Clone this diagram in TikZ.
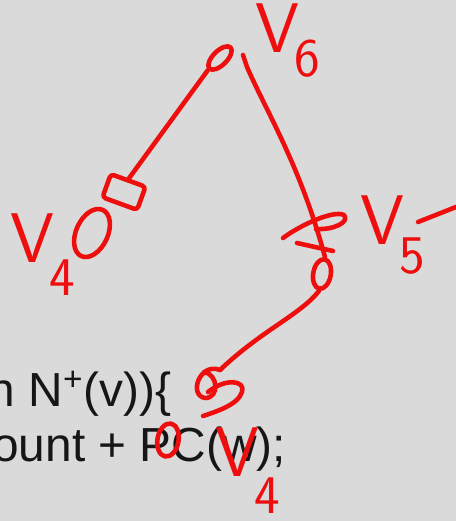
\documentclass[tikz,border=0pt]{standalone}
\usepackage{fontspec}
\setmainfont{Liberation Sans}
\usetikzlibrary{shapes.geometric,positioning,calc}
\definecolor{slidegray}{RGB}{218,218,218}
\definecolor{penred}{RGB}{238,14,14}
\definecolor{slideink}{RGB}{22,22,22}
\tikzset{
  ink/.style        = {draw=penred, line width=2.6pt, line cap=round, line join=round},
  vertexloop/.style = {ellipse, ink, inner sep=0pt},
  vertexbox/.style  = {rectangle, rounded corners=2pt, ink, inner sep=0pt},
  edgeline/.style   = {ink},
  handlabel/.style  = {text=penred, inner sep=0pt, anchor=north west, font=\sffamily},
  codeline/.style   = {text=slideink, inner sep=0pt, anchor=base west,
                       font=\fontsize{27.2}{32}\selectfont},
}
\newcommand{\vlab}[2][13pt]{{\fontsize{40}{40}\selectfont V}\kern-3pt\raisebox{-#1}{\fontsize{31}{31}\selectfont #2}}

\begin{document}
\begin{tikzpicture}[x=0.02cm,y=-0.02cm]
  \useasboundingbox (0,0) rectangle (456,521);
  \fill[slidegray] (0,0) rectangle (456,521);
  \clip (0,0) rectangle (456,521);

  % slide text
  \node[codeline] (line1) at (-11.6,406) {n N\textsuperscript{+}(v))\{};
  \node[codeline] (line2) at (-8,461) {ount + PC(w);};

  % vertices
  \node[vertexloop, minimum width=17pt, minimum height=8pt, rotate=45] (v6) at (220,58) {};
  \node[vertexbox, minimum width=21pt, minimum height=14pt, rotate=-20] (v4box) at (124,192) {};
  \node[vertexloop, minimum width=18pt, minimum height=29pt, rotate=-25] (v4) at (92,233) {};
  \node[vertexloop, minimum width=10pt, minimum height=17pt, rotate=-10] (v5) at (322,274) {};
  \node[vertexloop, minimum width=12pt, minimum height=19pt, rotate=-10] (pc) at (168,440) {};
  \coordinate (v6tick) at (243,55);
  \coordinate (v6foot) at (247,67);
  \coordinate (w5) at (220,370);

  % edges
  \draw[edgeline] (v6.west) -- (v4box.north);
  \draw[edgeline] (v6tick) -- (v6foot) .. controls (268,115) and (300,165) .. (v5.north);
  \draw[edgeline] (v5.south) .. controls (300,315) and (262,330) .. (w5);

  % scribble on v5
  \draw[ink] (283,238) .. controls (302,224) and (334,210) .. (344,215)
             .. controls (350,222) and (334,230) .. (316,229);
  \draw[ink] (297,243) -- (333,251);

  % scribble at the end of the lower edge
  \draw[ink] (w5) .. controls (200,362) and (188,395) .. (205,398)
             .. controls (220,398) and (218,374) .. (204,372);
  \draw[ink] (208,392) .. controls (225,378) and (246,380) .. (242,392)
             .. controls (238,405) and (215,412) .. (203,416);

  % labels
  \node[handlabel] (v6lab) at (255,3) {\vlab[14pt]{6}};
  \node[handlabel] (v5lab) at (360,195) {\vlab[17pt]{5}};
  \node[handlabel] (v4lab) at (10,213) {\vlab[19pt]{4}};
  \node[handlabel] (w4lab) at (215,427) {\vlab[21pt]{4}};
  \draw[ink] (418,222) -- (456,207);
\end{tikzpicture}
\end{document}
